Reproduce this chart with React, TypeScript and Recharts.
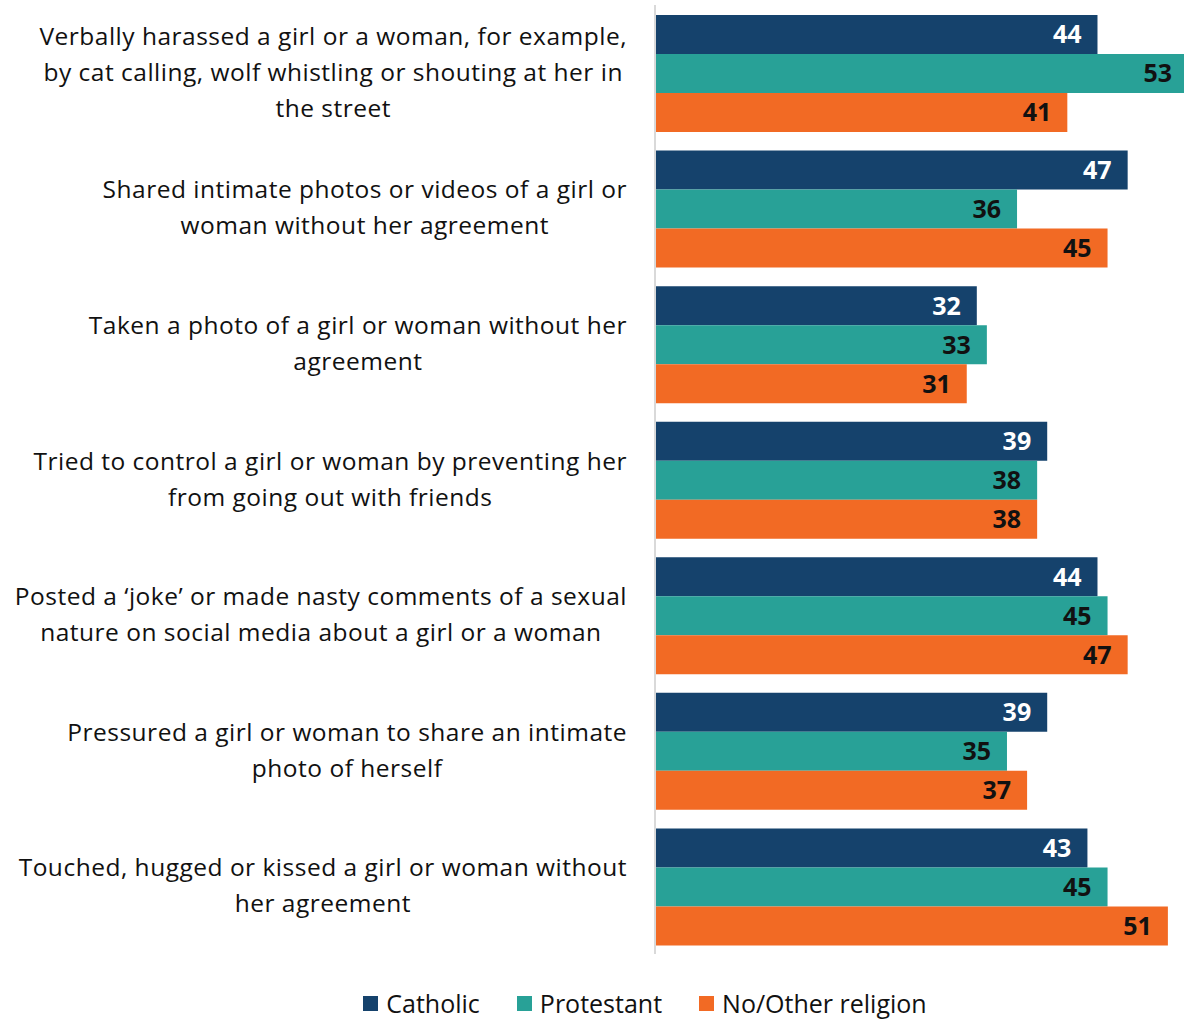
import React from 'react';
import { BarChart, Bar, XAxis, YAxis, LabelList, Legend } from 'recharts';

const categories = [
  'Verbally harassed a girl or a woman, for example,\nby cat calling, wolf whistling or shouting at her in\nthe street',
  'Shared intimate photos or videos of a girl or\nwoman without her agreement',
  'Taken a photo of a girl or woman without her\nagreement',
  'Tried to control a girl or woman by preventing her\nfrom going out with friends',
  'Posted a \u2018joke\u2019 or made nasty comments of a sexual\nnature on social media about a girl or a woman',
  'Pressured a girl or woman to share an intimate\nphoto of herself',
  'Touched, hugged or kissed a girl or woman without\nher agreement',
];

const catholic = [44, 47, 32, 39, 44, 39, 43];
const protestant = [53, 36, 33, 38, 45, 35, 45];
const noReligion = [41, 45, 31, 38, 47, 37, 51];

const seriesNames = ['Catholic', 'Protestant', 'No/Other religion'];
const seriesColors = ['#15426C', '#28A197', '#F26A24'];
const labelColors = ['#FFFFFF', '#111111', '#111111'];

const data = categories.map((c, i) => ({
  category: c,
  Catholic: catholic[i],
  Protestant: protestant[i],
  'No/Other religion': noReligion[i],
}));

const FONT = '"Open Sans", Lato, sans-serif';
const LABEL_SIZE = 24.5;
const LABEL_SPACING = 0.5;

let canvasCtx: CanvasRenderingContext2D | null = null;
const measure = (s: string) => {
  if (!canvasCtx) canvasCtx = document.createElement('canvas').getContext('2d');
  if (!canvasCtx) return s.length * 12;
  canvasCtx.font = `${LABEL_SIZE}px ${FONT}`;
  return canvasCtx.measureText(s).width + s.length * LABEL_SPACING;
};

// category label: lines centred on each other, block right-aligned to the axis
const CategoryTick = ({ x, y, payload }: any) => {
  const lines: string[] = String(payload.value).split('\n');
  const lineH = 36;
  const widest = Math.max(...lines.map(measure));
  const cx = x - widest / 2;
  const startY = y - 2 - ((lines.length - 1) * lineH) / 2;
  return (
    <text
      x={cx}
      y={startY}
      textAnchor="middle"
      dominantBaseline="central"
      fontFamily={FONT}
      fontSize={LABEL_SIZE}
      letterSpacing={LABEL_SPACING}
      fill="#111111"
    >
      {lines.map((l, i) => (
        <tspan key={i} x={cx} y={startY + i * lineH}>
          {l}
        </tspan>
      ))}
    </text>
  );
};

const LegendContent = () => (
  <div
    style={{
      display: 'flex',
      justifyContent: 'center',
      gap: 37,
      fontFamily: FONT,
      fontSize: 25,
      lineHeight: '34px',
      color: '#111111',
    }}
  >
    {seriesNames.map((n, i) => (
      <div key={n} style={{ display: 'flex', alignItems: 'center' }}>
        <span
          style={{
            display: 'inline-block',
            width: 15,
            height: 15,
            background: seriesColors[i],
            marginRight: 8,
          }}
        />
        <span>{n}</span>
      </div>
    ))}
  </div>
);

const App: React.FC = () => {
  return (
    <div
      style={{
        position: 'absolute',
        left: 0,
        top: 0,
        width: 1184,
        height: 1020,
        overflow: 'hidden',
        background: '#fff',
      }}
    >
      <BarChart
        width={1188}
        height={1020}
        data={data}
        layout="vertical"
        margin={{ top: 5, right: 0, left: 0, bottom: 32 }}
        barCategoryGap={10}
        barGap={0}
      >
        <XAxis type="number" domain={[0, 53]} hide />
        <YAxis
          type="category"
          dataKey="category"
          width={655}
          axisLine={{ stroke: '#D9D9D9', strokeWidth: 2 }}
          tickLine={false}
          tickSize={0}
          tickMargin={28}
          tick={<CategoryTick />}
          interval={0}
        />
        <Legend
          content={<LegendContent />}
          wrapperStyle={{ top: 986, left: 0, width: 1290, height: 34 }}
        />
        {seriesNames.map((n, i) => (
          <Bar key={n} dataKey={n} fill={seriesColors[i]} isAnimationActive={false}>
            <LabelList
              dataKey={n}
              position="insideRight"
              offset={16}
              fill={labelColors[i]}
              fontFamily={FONT}
              fontWeight="bold"
              fontSize={25}
            />
          </Bar>
        ))}
      </BarChart>
    </div>
  );
};

export default App;
